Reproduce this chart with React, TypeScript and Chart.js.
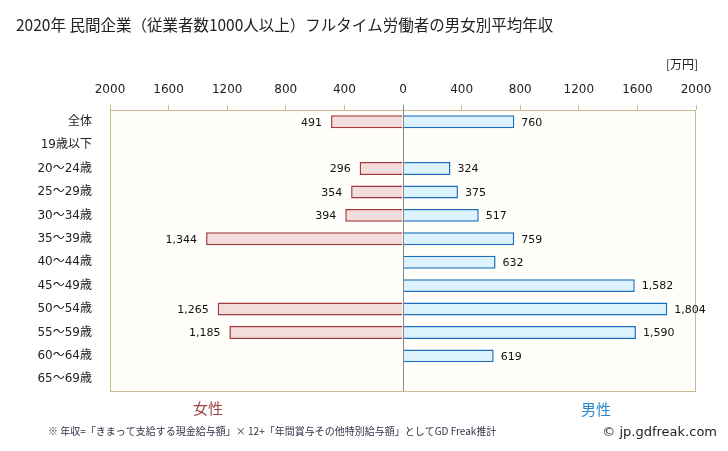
import React, { useEffect, useRef } from "react";
import { Chart, registerables } from "chart.js";

Chart.register(...registerables);

const categories = [
  "全体", "19歳以下", "20〜24歳", "25〜29歳", "30〜34歳", "35〜39歳",
  "40〜44歳", "45〜49歳", "50〜54歳", "55〜59歳", "60〜64歳", "65〜69歳",
];
const femaleValues: (number | null)[] = [491, null, 296, 354, 394, 1344, null, null, 1265, 1185, null, null];
const maleValues: (number | null)[] = [760, null, 324, 375, 517, 759, 632, 1582, 1804, 1590, 619, null];
const tickValues = [-2000, -1600, -1200, -800, -400, 0, 400, 800, 1200, 1600, 2000];

const title = "2020年 民間企業（従業者数1000人以上）フルタイム労働者の男女別平均年収";
const unitLabel = "[万円]";
const femaleLabel = "女性";
const maleLabel = "男性";
const footnote = "※ 年収=「きまって支給する現金給与額」× 12+「年間賞与その他特別給与額」としてGD Freak推計";
const copyright = "© jp.gdfreak.com";

const NUM_FONT = '"DejaVu Sans", "Noto Sans CJK JP", sans-serif';
const JP_FONT = '"Noto Sans CJK JP", "DejaVu Sans", sans-serif';

const fmt = (v: number) => Math.abs(v).toLocaleString("en-US");

const decorPlugin = {
  id: "decor",
  beforeDraw(chart: any) {
    const { ctx, chartArea } = chart;
    ctx.save();
    ctx.fillStyle = "#fffefa";
    ctx.fillRect(chartArea.left, chartArea.top, chartArea.right - chartArea.left, chartArea.bottom - chartArea.top);
    ctx.restore();
  },
  afterDatasetsDraw(chart: any) {
    const { ctx, chartArea } = chart;
    ctx.save();
    ctx.strokeStyle = "#c8bc8e";
    ctx.lineWidth = 1;
    ctx.strokeRect(chartArea.left + 0.5, chartArea.top + 0.5, chartArea.right - chartArea.left - 1, chartArea.bottom - chartArea.top);
    const x0 = Math.round(chart.scales.x.getPixelForValue(0)) + 0.5;
    ctx.strokeStyle = "#888888";
    ctx.beginPath();
    ctx.moveTo(x0, chartArea.top - 5);
    ctx.lineTo(x0, chartArea.bottom);
    ctx.stroke();

    ctx.font = "11px " + NUM_FONT;
    ctx.fillStyle = "#111";
    ctx.textBaseline = "middle";
    chart.data.datasets.forEach((ds: any, di: number) => {
      const meta = chart.getDatasetMeta(di);
      meta.data.forEach((el: any, i: number) => {
        const v = ds.data[i];
        if (v === null || v === undefined) return;
        if (v < 0) {
          ctx.textAlign = "right";
          ctx.fillText(fmt(v), el.x - 9, el.y + 1);
        } else {
          ctx.textAlign = "left";
          ctx.fillText(fmt(v), el.x + 7, el.y + 1);
        }
      });
    });

    ctx.textAlign = "left";
    ctx.textBaseline = "middle";
    ctx.fillStyle = "#222";
    ctx.font = "15.5px " + JP_FONT;
    ctx.fillText(title, 16, 25);

    ctx.font = "12px " + JP_FONT;
    ctx.fillStyle = "#222";
    ctx.textAlign = "right";
    ctx.fillText(unitLabel, 698, 64);

    ctx.textAlign = "center";
    ctx.font = "15px " + JP_FONT;
    ctx.fillStyle = "#a04545";
    ctx.fillText(femaleLabel, 208, 408);
    ctx.fillStyle = "#2a88d0";
    ctx.fillText(maleLabel, 596, 409);

    ctx.textAlign = "left";
    ctx.font = "10px " + JP_FONT;
    ctx.fillStyle = "#3a2f45";
    ctx.fillText(footnote, 48, 431);

    ctx.textAlign = "right";
    ctx.font = "13px " + NUM_FONT;
    ctx.fillStyle = "#222";
    ctx.fillText(copyright, 717, 433);
    ctx.restore();
  },
};

export default function App() {
  const ref = useRef<HTMLCanvasElement>(null);
  useEffect(() => {
    if (!ref.current) return;
    const chart = new Chart(ref.current, {
      type: "bar",
      data: {
        labels: categories,
        datasets: [
          {
            label: femaleLabel,
            data: femaleValues.map((v) => (v === null ? null : -v)),
            backgroundColor: "#f2dcdc",
            borderColor: "#a3393a",
            borderWidth: 1.5,
            borderSkipped: "start",
            categoryPercentage: 1,
            barPercentage: 0.55,
          },
          {
            label: maleLabel,
            data: maleValues,
            backgroundColor: "#dcf3fd",
            borderColor: "#1a6fbf",
            borderWidth: 1.5,
            borderSkipped: "start",
            categoryPercentage: 1,
            barPercentage: 0.55,
          },
        ],
      },
      options: {
        indexAxis: "y",
        animation: false,
        responsive: false,
        maintainAspectRatio: false,
        layout: { padding: { left: 0, right: 32, top: 70, bottom: 60 } },
        plugins: { legend: { display: false }, tooltip: { enabled: false }, title: { display: false } },
        scales: {
          x: {
            position: "top",
            stacked: true,
            min: -2000,
            max: 2000,
            afterBuildTicks: (scale: any) => {
              scale.ticks = tickValues.map((v) => ({ value: v }));
            },
            afterFit: (scale: any) => {
              scale.height = 40;
            },
            border: { display: false },
            grid: {
              drawOnChartArea: false,
              drawTicks: true,
              tickLength: 5,
              tickColor: "#c8bc8e",
              color: "#c8bc8e",
            },
            ticks: {
              autoSkip: false,
              maxRotation: 0,
              padding: 8,
              color: "#222",
              font: { family: NUM_FONT, size: 12 },
              callback: (v: any) => String(Math.abs(Number(v))),
            },
          },
          y: {
            stacked: true,
            afterFit: (scale: any) => {
              scale.width = 110;
            },
            border: { display: false },
            grid: { display: false },
            ticks: {
              padding: 10,
              color: "#222",
              font: { family: NUM_FONT, size: 12 },
            },
          },
        },
      },
      plugins: [decorPlugin],
    } as any);
    return () => chart.destroy();
  }, []);
  return (
    <div style={{ position: "fixed", left: 0, top: 0, width: 728, height: 451, background: "#fff" }}>
      <canvas ref={ref} width={728} height={451} style={{ width: 728, height: 451 }} />
    </div>
  );
}
